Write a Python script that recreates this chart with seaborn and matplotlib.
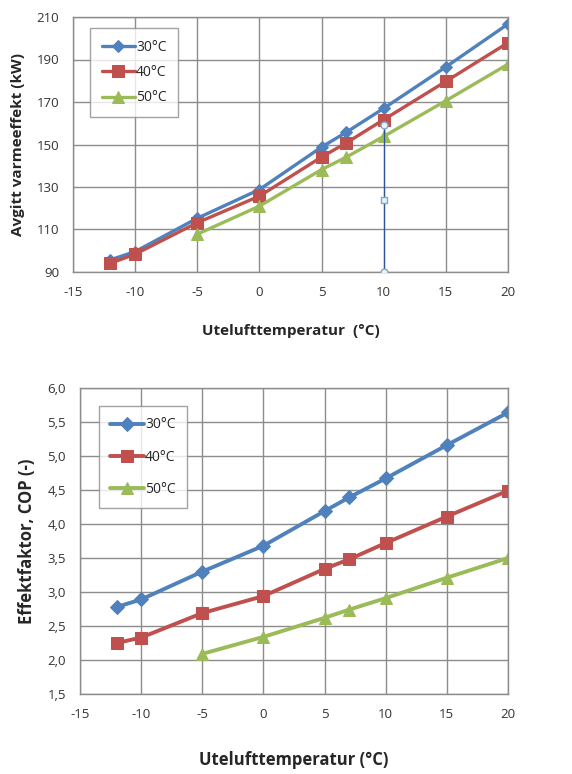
import pandas as pd
import seaborn as sns
import numpy as np
import matplotlib.pyplot as plt
from matplotlib.ticker import FuncFormatter

# outdoor temperatures
temp = [-12, -10, -5, 0, 5, 7, 10, 15, 20]
temp_50 = [-5, 0, 5, 7, 10, 15, 20]

# heat output (kW)
heat_30 = [95.7, 99.6, 115.3, 128.8, 148.8, 155.8, 167.0, 186.5, 206.7]
heat_40 = [94.1, 98.4, 113.2, 125.7, 144.1, 150.8, 161.7, 179.7, 197.9]
heat_50 = [107.8, 121.0, 138.2, 144.1, 153.8, 170.6, 187.8]

# COP
cop_30 = [2.78, 2.89, 3.30, 3.68, 4.19, 4.39, 4.67, 5.16, 5.64]
cop_40 = [2.25, 2.33, 2.69, 2.94, 3.34, 3.48, 3.72, 4.11, 4.49]
cop_50 = [2.09, 2.34, 2.62, 2.74, 2.91, 3.21, 3.50]

labels = ["30°C", "40°C", "50°C"]
colors = ["#4F81BD", "#C0504D", "#9BBB59"]
markers = ["D", "s", "^"]

sns.set_style("white")
plt.rcParams['font.family'] = ['Open Sans', 'DejaVu Sans']
plt.rcParams['axes.unicode_minus'] = False

fig = plt.figure(figsize=(5.72, 7.74), dpi=100)
W, H = 572, 774
ax1 = fig.add_axes([73 / W, 1 - 272 / H, (508 - 73) / W, (272 - 17) / H])
ax2 = fig.add_axes([80 / W, 1 - 694 / H, (508 - 80) / W, (694 - 388) / H])


def draw(ax, ys, ylim, yticks, fmt, lw, msizes):
    xs = [temp, temp, temp_50]
    for x, y, lab, c, m, ms in zip(xs, ys, labels, colors, markers, msizes):
        df = pd.DataFrame({"x": x, "y": y})
        sns.lineplot(data=df, x="x", y="y", ax=ax, color=c, marker=m,
                     markersize=ms, markeredgecolor=c, linewidth=lw,
                     label=lab)
    ax.set_xlim(-15, 20)
    ax.set_xticks(range(-15, 21, 5))
    ax.set_ylim(*ylim)
    ax.set_yticks(yticks)
    ax.yaxis.set_major_formatter(FuncFormatter(fmt))
    ax.grid(True, color="#8c8c8c", linewidth=1.0)
    for s in ax.spines.values():
        s.set_color("#8c8c8c")
        s.set_linewidth(1.0)
    ax.tick_params(axis="both", labelsize=9.5, colors="#333333", length=0, pad=10)
    ax.set_axisbelow(True)


draw(ax1, [heat_30, heat_40, heat_50], (90, 210), range(90, 211, 20),
     lambda v, p: f"{int(v)}", 2.4, [6, 8, 8])
draw(ax2, [cop_30, cop_40, cop_50], (1.5, 6.0), np.arange(1.5, 6.01, 0.5),
     lambda v, p: f"{v:.1f}".replace(".", ","), 2.8, [7, 9, 9])

# selected drawing line in the top chart
ax1.plot([10, 10], [90, 159], color="#2F5597", linewidth=0.9, zorder=5)
ax1.plot([10, 10], [90, 159], linestyle="none", marker="o", markersize=5,
         markerfacecolor="#E8F2FA", markeredgecolor="#7FA7C9", zorder=6)
ax1.plot([10], [124], linestyle="none", marker="s", markersize=4,
         markerfacecolor="#E8F2FA", markeredgecolor="#7FA7C9", zorder=6)

ax1.set_xlabel("Utelufttemperatur  (°C)", fontsize=11, fontweight="bold",
               labelpad=18)
ax1.set_ylabel("Avgitt varmeeffekt (kW)", fontsize=11, fontweight="bold",
               labelpad=8)
ax2.set_xlabel("Utelufttemperatur (°C)", fontsize=12, fontweight="bold",
               labelpad=22)
ax2.set_ylabel("Effektfaktor, COP (-)", fontsize=12, fontweight="bold",
               labelpad=8)

for ax, anchor, sp in [(ax1, (0.04, 0.955), 0.75), (ax2, (0.045, 0.94), 1.25)]:
    leg = ax.legend(loc="upper left", bbox_to_anchor=anchor, fontsize=10,
                    frameon=True, fancybox=False, borderpad=0.8,
                    labelspacing=sp, handlelength=2.4, handletextpad=0.1,
                    borderaxespad=0)
    leg.get_frame().set_edgecolor("#8c8c8c")
    leg.get_frame().set_linewidth(1.0)

fig.savefig("out.png", dpi=100, facecolor="white")
